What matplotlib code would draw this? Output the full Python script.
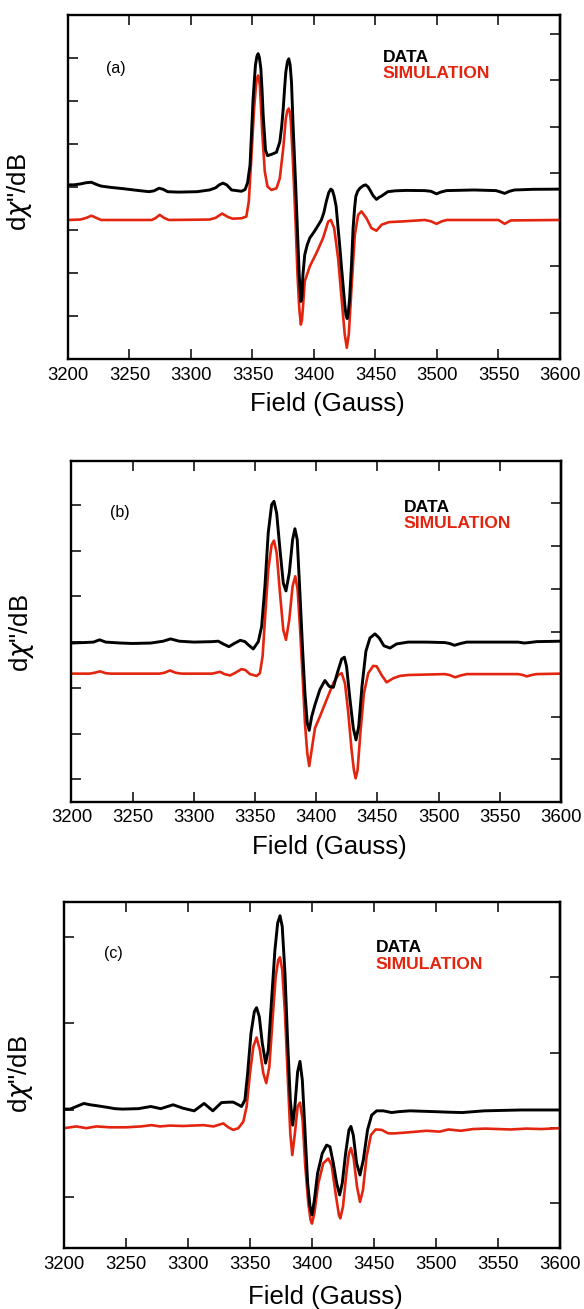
import matplotlib
matplotlib.use("Agg")
import matplotlib.pyplot as plt

plt.rcParams["font.family"] = ["Liberation Sans", "DejaVu Sans"]
plt.rcParams["mathtext.fontset"] = "custom"
plt.rcParams["mathtext.rm"] = "Liberation Sans"
plt.rcParams["mathtext.it"] = "DejaVu Sans:italic"

# ---------------- data (arbitrary signal units) ----------------
field_ticks = list(range(3200, 3601, 50))
series_names = ["DATA", "SIMULATION"]
panel_labels = ["(a)", "(b)", "(c)"]

# panel (a)
a_data_field = [3200, 3205, 3210, 3215, 3219, 3223, 3227, 3235, 3245, 3258, 3266, 3270, 3274, 3277, 3281,
                3290, 3305, 3315, 3320, 3323, 3326, 3329, 3333, 3341, 3344, 3346, 3348, 3349.3, 3350.5, 3352.4,
                3353.6, 3354.6, 3355.6, 3356.8, 3357.8, 3358.7, 3360.6, 3362.2, 3365.4, 3369.5, 3372.2, 3373.7,
                3375, 3376.1, 3377.1, 3378.4, 3379.5, 3380.6, 3381.7, 3383, 3385, 3386.6, 3388, 3389.3, 3390.2,
                3391, 3392.5, 3394.5, 3396.6, 3400, 3402, 3406, 3408, 3410, 3412, 3413.7, 3415, 3416.4, 3418,
                3419.6, 3421, 3422.4, 3424, 3425, 3426, 3427, 3428, 3429, 3430.5, 3431.8, 3433, 3434, 3435.5,
                3437.3, 3440, 3442, 3444, 3445.5, 3448, 3450.8, 3453, 3455, 3460, 3466, 3475, 3490, 3495, 3499.6,
                3503, 3507.7, 3530, 3548, 3552, 3555, 3559, 3563, 3578, 3600]
a_data_signal = [0.05, 0.05, 0.07, 0.10, 0.11, 0.06, 0.02, -0.01, -0.04, -0.085, -0.11, -0.09, -0.03, -0.05, -0.11,
                 -0.12, -0.11, -0.07, -0.02, 0.05, 0.09, 0.05, -0.07, -0.10, -0.06, 0.10, 0.51, 1.30, 2.06, 2.84,
                 3.05, 3.11, 3.02, 2.76, 2.25, 1.67, 0.86, 0.73, 0.76, 0.81, 1.05, 1.40,
                 1.83, 2.30, 2.68, 2.92, 2.99, 2.85, 2.45, 1.44, 0.12, -1.05, -2.05, -2.67, -2.55,
                 -2.05, -1.58, -1.35, -1.19, -1.05, -0.96, -0.77, -0.60, -0.34, -0.13, -0.05, -0.08, -0.22, -0.45,
                 -0.96, -1.40, -1.89, -2.40, -2.74, -2.98, -3.07, -2.90, -2.59, -1.80, -0.96, -0.50, -0.22, -0.10,
                 -0.03, 0.03, 0.05, 0.00, -0.07, -0.20, -0.29, -0.24, -0.21, -0.11, -0.09, -0.08, -0.085, -0.10, -0.16,
                 -0.12, -0.085, -0.07, -0.085, -0.12, -0.15, -0.10, -0.07, -0.055, -0.05]
a_sim_field = [3200, 3210, 3215, 3219, 3223, 3227, 3268, 3271, 3274.6, 3278, 3282, 3315, 3320, 3325.3, 3330,
               3334, 3341, 3345, 3347, 3349.2, 3351.3, 3353.2, 3354.6, 3356, 3357.9, 3360, 3362.2, 3365.4,
               3369.5, 3372.2, 3375, 3377.1, 3378.4, 3379.5, 3380.4, 3381.2, 3383, 3385, 3386.6, 3388, 3389.3,
               3390.2, 3391, 3392.5, 3396.6, 3402, 3407.4, 3411.5, 3413.7, 3416.4, 3419.6, 3422.4, 3425, 3426.7,
               3428.3, 3430.5, 3433.2, 3435.9, 3438.6, 3442.7, 3446.7, 3450.8, 3455, 3461, 3474, 3490, 3495,
               3499.6, 3504, 3508, 3550, 3555, 3560, 3600]
a_sim_signal = [-0.77, -0.76, -0.72, -0.67, -0.72, -0.77, -0.77, -0.73, -0.65, -0.72, -0.77, -0.76, -0.72, -0.62, -0.70,
                -0.74, -0.73, -0.69, -0.34, 0.74, 1.83, 2.49, 2.60, 2.37, 1.29, 0.36, 0.01, -0.07,
                -0.03, 0.20, 0.90, 1.60, 1.78, 1.83, 1.75, 1.52, 0.51, -0.81, -2.05, -2.82, -3.21,
                -3.10, -2.82, -2.20, -1.85, -1.54, -1.19, -0.81, -0.77, -0.96, -1.66, -2.59, -3.44, -3.75,
                -3.44, -2.36, -1.12, -0.65, -0.57, -0.73, -0.96, -1.02, -0.88, -0.82, -0.80, -0.77, -0.80,
                -0.86, -0.80, -0.77, -0.77, -0.86, -0.78, -0.77]

# panel (b)
b_data_field = [3200, 3210, 3218, 3223, 3228, 3240, 3250, 3265, 3275, 3281, 3288, 3300, 3315, 3320, 3324, 3328.7,
                3333, 3338, 3341.8, 3344.5, 3348.6, 3352.7, 3355.4, 3358.1, 3360.8, 3363.6, 3365.5, 3367.7,
                3370.4, 3373.1, 3375.3, 3378, 3380.7, 3382.6, 3384.5, 3386.7, 3388.9, 3390.8, 3392.7, 3394.3,
                3396.3, 3399, 3403, 3407.1, 3410.7, 3414, 3417.2, 3420.8, 3423, 3424.8, 3427.6, 3430.3, 3432.5,
                3434.7, 3437.4, 3440.6, 3443.9, 3448, 3451.5, 3455.3, 3460.3, 3465.7, 3475, 3490, 3505, 3509,
                3513, 3518, 3523, 3565, 3570, 3574, 3580, 3600]
b_data_signal = [-0.02, -0.01, 0.00, 0.05, 0.00, -0.02, -0.03, -0.02, 0.02, 0.07, 0.02, 0.00, 0.01, 0.02, -0.04, -0.10,
                 -0.03, 0.04, 0.01, -0.06, -0.15, 0.01, 0.34, 1.22, 2.39, 3.01, 3.08, 2.82,
                 2.02, 1.29, 1.12, 1.51, 2.24, 2.48, 2.24, 1.07, -0.17, -1.12, -1.77, -1.93,
                 -1.63, -1.37, -1.04, -0.84, -0.97, -0.99, -0.68, -0.37, -0.33, -0.53, -1.26, -1.88, -2.14,
                 -1.85, -0.97, -0.20, 0.09, 0.18, 0.09, -0.08, -0.13, -0.04, 0.00, 0.00, -0.01, -0.03,
                 -0.07, -0.03, 0.00, 0.00, -0.02, -0.01, 0.01, 0.02]
b_sim_field = [3200, 3215, 3219, 3223.4, 3228, 3232, 3272, 3276, 3280.6, 3285, 3290, 3315, 3321.4, 3325, 3329.6,
               3334, 3339, 3342, 3345.9, 3351.3, 3354, 3356.2, 3358.1, 3360.8, 3363.6, 3365.5, 3367.7, 3370.4,
               3373.1, 3375.3, 3378, 3380.7, 3382.9, 3384.8, 3386.7, 3388.9, 3390.8, 3392.7, 3394.3, 3396.3,
               3399, 3403, 3408.5, 3414, 3418, 3420.8, 3423.5, 3426.2, 3428.9, 3430.8, 3432.2, 3433.8, 3436.3,
               3439, 3442.5, 3446.6, 3449.4, 3453.4, 3457.5, 3463, 3468.4, 3475, 3490, 3505, 3509, 3513.4,
               3518, 3523, 3565, 3569, 3572, 3576, 3580, 3600]
b_sim_signal = [-0.69, -0.69, -0.67, -0.64, -0.68, -0.69, -0.69, -0.67, -0.62, -0.67, -0.69, -0.69, -0.65, -0.70, -0.73,
                -0.67, -0.59, -0.61, -0.70, -0.74, -0.68, -0.31, 0.49, 1.58, 2.13, 2.22, 1.95, 1.07,
                0.27, 0.05, 0.49, 1.22, 1.44, 1.15, 0.34, -0.75, -1.77, -2.43, -2.71, -2.36,
                -1.88, -1.63, -1.26, -0.90, -0.72, -0.68, -0.90, -1.55, -2.36, -2.80, -2.98, -2.80, -1.92,
                -1.12, -0.68, -0.52, -0.53, -0.72, -0.88, -0.79, -0.74, -0.72, -0.71, -0.70, -0.72, -0.77,
                -0.73, -0.70, -0.70, -0.72, -0.75, -0.72, -0.70, -0.69]

# panel (c)
c_data_field = [3200, 3205, 3210, 3216, 3221, 3226, 3235, 3241, 3247, 3260, 3270, 3278, 3288, 3296, 3305, 3313,
                3320, 3327, 3333, 3336.5, 3340.6, 3343.2, 3345.9, 3348.1, 3350.8, 3353.5, 3355.3, 3357.5, 3359.9,
                3362.6, 3364.7, 3367.4, 3370.1, 3372.3, 3374.2, 3376, 3378.2, 3380.3, 3382.5, 3384.4, 3386.2,
                3388.4, 3390.3, 3392.2, 3394.3, 3396.5, 3398.4, 3400, 3401.9, 3404.5, 3408.3, 3411.8, 3414.5,
                3417.2, 3419.9, 3422.3, 3424.4, 3427.1, 3429.8, 3431.4, 3433.3, 3436, 3438.7, 3441.4, 3444.8,
                3448.1, 3452.1, 3457.5, 3464.2, 3469.6, 3479, 3500, 3509, 3521, 3539, 3569, 3600]
c_data_signal = [0.02, 0.02, 0.08, 0.15, 0.12, 0.10, 0.06, 0.03, 0.02, 0.03, 0.08, 0.03, 0.12, 0.04, -0.02, 0.15,
                 -0.02, 0.17, 0.18, 0.18, 0.12, 0.08, 0.23, 0.85, 1.77, 2.27, 2.36, 2.15, 1.54,
                 1.08, 1.38, 2.54, 3.69, 4.31, 4.48, 4.23, 3.15, 1.62, 0.23, -0.35, 0.08,
                 0.88, 1.12, 0.69, -0.46, -1.69, -2.23, -2.42, -2.08, -1.46, -1.00, -0.81, -0.85,
                 -1.23, -1.69, -1.96, -1.69, -1.00, -0.46, -0.38, -0.58, -1.23, -1.50, -1.15, -0.46,
                 -0.12, -0.02, -0.02, -0.06, -0.04, -0.02, -0.04, -0.05, -0.06, -0.02, 0.00, 0.00]
c_sim_field = [3200, 3210, 3218, 3226, 3237, 3250, 3262, 3270.7, 3277.4, 3285.5, 3296, 3304, 3312.4, 3320.5,
               3328.5, 3332.5, 3336.5, 3340.6, 3344.6, 3347.3, 3350, 3352.7, 3355.3, 3358, 3360.7, 3363.1,
               3365.6, 3368.2, 3370.7, 3372.8, 3374.2, 3376, 3378.2, 3380.3, 3382.5, 3384.1, 3386.2, 3388.4,
               3390.3, 3392.4, 3394.6, 3397, 3398.9, 3400, 3401.9, 3405.1, 3409.1, 3413.1, 3415.8, 3419,
               3421.7, 3422.8, 3425, 3427.7, 3429.8, 3431.4, 3433.6, 3436.3, 3438.7, 3441.1, 3444, 3447.5,
               3451.3, 3456.2, 3461.5, 3466.9, 3476, 3492.5, 3503, 3510, 3520, 3530, 3540, 3560, 3573, 3585, 3600]
c_sim_signal = [-0.42, -0.38, -0.42, -0.38, -0.40, -0.40, -0.38, -0.35, -0.38, -0.36, -0.37, -0.36, -0.35, -0.38,
                -0.31, -0.40, -0.46, -0.42, -0.27, 0.08, 0.85, 1.46, 1.67, 1.38, 0.85, 0.62,
                1.00, 2.08, 3.08, 3.46, 3.52, 3.23, 2.23, 0.85, -0.54, -1.04, -0.54, 0.08,
                0.17, -0.23, -1.31, -2.15, -2.54, -2.62, -2.38, -1.69, -1.23, -1.12, -1.27, -1.92,
                -2.42, -2.50, -2.23, -1.46, -1.00, -0.88, -1.12, -1.77, -2.12, -1.85, -1.08, -0.58,
                -0.45, -0.46, -0.54, -0.54, -0.52, -0.48, -0.50, -0.45, -0.48, -0.44, -0.43, -0.45, -0.43, -0.44, -0.42]

# ---------------- styling / layout ----------------
BLACK = "#000000"
RED = "#e3250f"

panels = [
    dict(rect=[0.1164, 0.7255, 0.8425, 0.2630], ylim=(-4.02, 4.01),
         left=[-3, -2, -1, 0, 1, 2, 3],
         right=[-2.93, -1.85, -0.77, 0.32, 1.40, 2.49, 3.57],
         data=(a_data_field, a_data_signal), sim=(a_sim_field, a_sim_signal),
         lab=(0.0976, 0.846), leg=(0.639, 0.864, 0.816), xl=(0.528, -0.095), yl=(-0.069, 0.487)),
    dict(rect=[0.1223, 0.3876, 0.8383, 0.2605], ylim=(-3.49, 3.97),
         left=[-3, -2, -1, 0, 1, 2, 3],
         right=[-2.56, -1.63, -0.70, 0.23, 1.17, 2.11, 3.04],
         data=(b_data_field, b_data_signal), sim=(b_sim_field, b_sim_signal),
         lab=(0.099, 0.847), leg=(0.679, 0.850, 0.802), xl=(0.527, -0.097), yl=(-0.0715, 0.495)),
    dict(rect=[0.1096, 0.0464, 0.8493, 0.2643], ylim=(-3.19, 4.79),
         left=[-2, 0, 2, 4],
         right=[-2.15, -0.42, 1.32, 3.06],
         data=(c_data_field, c_data_signal), sim=(c_sim_field, c_sim_signal),
         lab=(0.0988, 0.851), leg=(0.628, 0.857, 0.807), xl=(0.527, -0.105), yl=(-0.0577, 0.504)),
]

fig = plt.figure(figsize=(5.84, 13.09), dpi=100)

for p, lab in zip(panels, panel_labels):
    ax = fig.add_axes(p["rect"])
    ax.plot(p["data"][0], p["data"][1], color=BLACK, lw=2.1, solid_joinstyle="round", zorder=3)
    ax.plot(p["sim"][0], p["sim"][1], color=RED, lw=1.9, solid_joinstyle="round", zorder=2)
    ax.set_xlim(3200, 3600)
    ax.set_ylim(*p["ylim"])
    ax.set_xticks(field_ticks)
    ax.set_xticklabels([str(t) for t in field_ticks])
    ax.set_yticks(p["left"])
    ax.tick_params(axis="x", which="both", direction="in", top=True, bottom=True,
                   length=7, width=1.1, labelsize=13.3, pad=5.5)
    ax.tick_params(axis="y", which="both", direction="in", left=True, right=False,
                   labelleft=False, length=7, width=1.1)
    sec = ax.secondary_yaxis("right")
    sec.set_yticks(p["right"])
    sec.tick_params(axis="y", direction="in", length=7, width=1.1, labelright=False)
    sec.spines["right"].set_linewidth(1.7)
    for s in ax.spines.values():
        s.set_linewidth(1.7)

    ax.set_xlabel("Field (Gauss)", fontsize=18.5)
    ax.xaxis.set_label_coords(*p["xl"])
    ax.set_ylabel(r'd$\chi$"/dB', fontsize=18.5)
    ax.yaxis.set_label_coords(*p["yl"])

    ax.text(p["lab"][0], p["lab"][1], lab, transform=ax.transAxes, fontsize=11.5,
            ha="center", va="center")
    ax.text(p["leg"][0], p["leg"][1], series_names[0], transform=ax.transAxes, fontsize=12.6,
            fontweight="bold", color=BLACK, ha="left", va="baseline")
    ax.text(p["leg"][0], p["leg"][2], series_names[1], transform=ax.transAxes, fontsize=12.6,
            fontweight="bold", color=RED, ha="left", va="baseline")

fig.savefig("out.png", dpi=100)
